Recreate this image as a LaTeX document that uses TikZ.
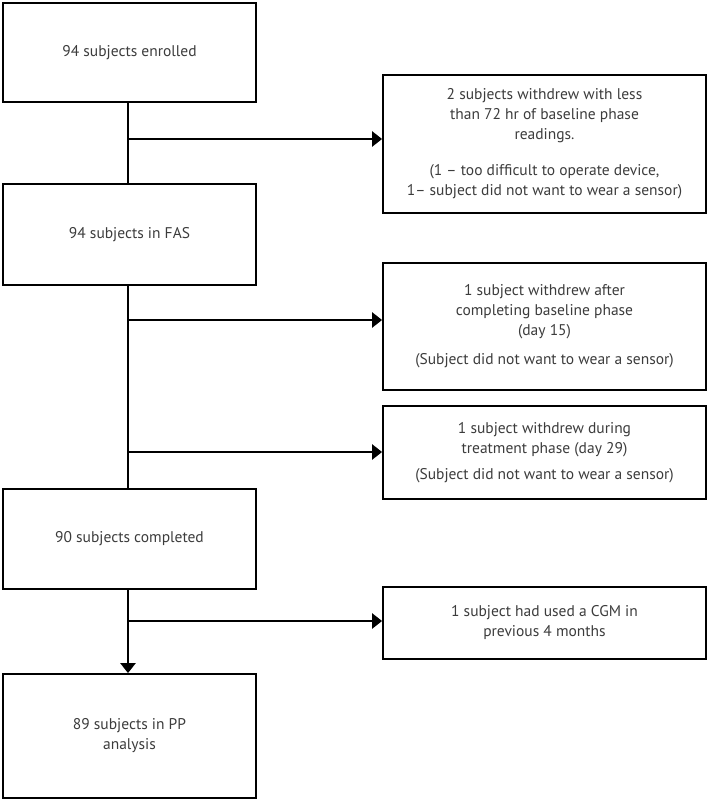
\documentclass[tikz,border=0pt]{standalone}
\usepackage{fontspec}
\setmainfont{PT Sans}
\usetikzlibrary{arrows.meta}
\definecolor{txt}{HTML}{3C3C3C}
\tikzset{
  box/.style={draw=black, line width=1.8pt, text=txt, align=center, inner sep=0pt,
    font=\fontsize{15.5}{20}\selectfont},
  lbox/.style={box, minimum width=253pt},
  rbox/.style={box, minimum width=323pt},
  conn/.style={draw=black, line width=2.4pt},
  arr/.style={conn, -{Triangle[length=10pt,width=15pt]}}
}
\begin{document}
\begin{tikzpicture}[x=1pt,y=1pt]
\useasboundingbox (0,0) rectangle (709,-801);
\node[lbox, minimum height=99pt] (b1) at (129.5,-52.5) {94 subjects enrolled};
\node[lbox, minimum height=101pt] (b2) at (129.5,-234.5) {94 subjects in FAS};
\node[lbox, minimum height=100pt] (b3) at (129.5,-539) {90 subjects completed};
\node[lbox, minimum height=124pt] (b4) at (129.5,-736) {89 subjects in PP\\analysis};
\node[rbox, minimum height=138pt] (r1) at (544.5,-144) {2 subjects withdrew with less\\than 72 hr of baseline phase\\readings.\\[16pt](1 – too difficult to operate device,\\1– subject did not want to wear a sensor)};
\node[rbox, minimum height=127pt] (r2) at (544.5,-326.5) {1 subject withdrew after\\completing baseline phase\\(day 15)\\[9pt](Subject did not want to wear a sensor)};
\node[rbox, minimum height=93pt] (r3) at (544.5,-452.5) {1 subject withdrew during\\treatment phase (day 29)\\[6pt](Subject did not want to wear a sensor)};
\node[rbox, minimum height=72pt] (r4) at (544.5,-623) {1 subject had used a CGM in\\previous 4 months};
\coordinate (j1) at (128,-139);
\coordinate (j2) at (128,-320);
\coordinate (j3) at (128,-452);
\coordinate (j4) at (128,-621);
\draw[conn] (b1.south -| j1) -- (b2.north -| j1);
\draw[conn] (b2.south -| j2) -- (b3.north -| j2);
\draw[arr] (b3.south -| j4) -- (b4.north -| j4);
\draw[arr] (j1) -- (j1 -| r1.west);
\draw[arr] (j2) -- (j2 -| r2.west);
\draw[arr] (j3) -- (j3 -| r3.west);
\draw[arr] (j4) -- (j4 -| r4.west);
\end{tikzpicture}
\end{document}
